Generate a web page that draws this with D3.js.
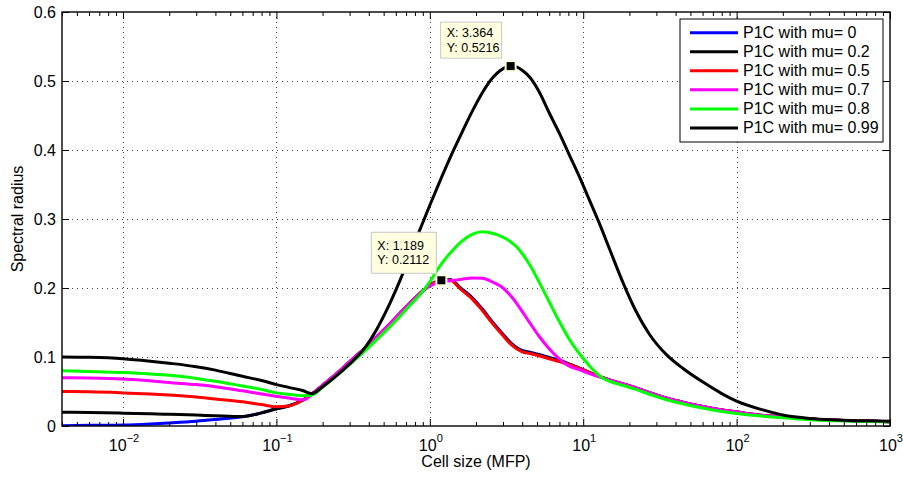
<!DOCTYPE html>
<meta charset="utf-8">
<script src="https://d3js.org/d3.v7.min.js"></script>
<style>
    body { margin: 0; background: #fff; }
    svg { display: block; font-family: "Liberation Sans", Arial, Helvetica, sans-serif; }
</style>
<body>
<svg width="903" height="479"></svg>
<script>
    // cell size (MFP), shared by every curve
    var cellSize = [0.004, 0.006, 0.01, 0.015, 0.02, 0.03, 0.04, 0.06, 0.08, 0.1,
                    0.12, 0.15, 0.17, 0.2, 0.25, 0.3, 0.37, 0.45, 0.55, 0.65,
                    0.75, 0.86, 1.0, 1.19, 1.35, 1.6, 1.9, 2.2, 2.6, 3.0,
                    3.36, 3.7, 4.0, 4.5, 5.2, 6.0, 7.0, 8.0, 9.5, 11,
                    13, 15, 18, 22, 27, 35, 45, 60, 80, 100,
                    150, 200, 300, 450, 700, 1000];

    var mu0   = [0.0005, 0.001, 0.0015, 0.003, 0.0045, 0.007, 0.0095, 0.0135, 0.019, 0.025,
                 0.029, 0.038, 0.046, 0.059, 0.077, 0.093, 0.111, 0.129, 0.148, 0.165,
                 0.179, 0.192, 0.204, 0.2115, 0.2125, 0.1995, 0.1855, 0.1695, 0.149, 0.133,
                 0.121, 0.1135, 0.1095, 0.107, 0.1035, 0.0995, 0.0955, 0.0905, 0.0835, 0.0775,
                 0.0712, 0.0665, 0.0612, 0.0552, 0.0482, 0.0402, 0.0342, 0.0282, 0.0232, 0.0202,
                 0.0152, 0.0132, 0.0102, 0.0082, 0.0072, 0.0062];
    var mu02  = [0.020, 0.0196, 0.0186, 0.0178, 0.017, 0.0158, 0.0148, 0.0137, 0.019, 0.025,
                 0.029, 0.038, 0.046, 0.059, 0.077, 0.093, 0.111, 0.129, 0.148, 0.165,
                 0.179, 0.192, 0.204, 0.2113, 0.212, 0.1985, 0.1845, 0.1685, 0.148, 0.132,
                 0.120, 0.1125, 0.1085, 0.106, 0.1025, 0.0985, 0.0945, 0.090, 0.0835, 0.0775,
                 0.0712, 0.0665, 0.0612, 0.0552, 0.0482, 0.0402, 0.0342, 0.0282, 0.0232, 0.0202,
                 0.0152, 0.0132, 0.0102, 0.0082, 0.0072, 0.0062];
    var mu05  = [0.050, 0.0495, 0.048, 0.0465, 0.045, 0.042, 0.039, 0.035, 0.031, 0.028,
                 0.029, 0.038, 0.046, 0.059, 0.077, 0.093, 0.111, 0.129, 0.148, 0.165,
                 0.179, 0.192, 0.204, 0.2112, 0.2115, 0.1975, 0.1835, 0.1675, 0.147, 0.131,
                 0.119, 0.1115, 0.1075, 0.105, 0.1015, 0.0975, 0.0935, 0.0895, 0.0835, 0.0775,
                 0.0712, 0.0665, 0.0612, 0.0552, 0.0482, 0.0402, 0.0342, 0.0282, 0.0232, 0.0202,
                 0.0152, 0.0132, 0.0102, 0.0082, 0.0072, 0.0062];
    var mu07  = [0.070, 0.0695, 0.068, 0.0655, 0.063, 0.060, 0.057, 0.051, 0.0465, 0.043,
                 0.0405, 0.038, 0.046, 0.059, 0.077, 0.093, 0.111, 0.129, 0.148, 0.165,
                 0.179, 0.192, 0.203, 0.209, 0.2105, 0.2125, 0.2145, 0.214, 0.208, 0.200,
                 0.189, 0.177, 0.166, 0.149, 0.129, 0.112, 0.097, 0.0875, 0.0815, 0.076,
                 0.0705, 0.0665, 0.0612, 0.0552, 0.0482, 0.0402, 0.0342, 0.0282, 0.0232, 0.0202,
                 0.0152, 0.0132, 0.0102, 0.0082, 0.0072, 0.0062];
    var mu08  = [0.080, 0.079, 0.0775, 0.0755, 0.0735, 0.069, 0.065, 0.058, 0.053, 0.048,
                 0.046, 0.044, 0.045, 0.056, 0.074, 0.089, 0.107, 0.125, 0.144, 0.161,
                 0.176, 0.190, 0.209, 0.235, 0.250, 0.267, 0.278, 0.2815, 0.279, 0.2735,
                 0.267, 0.259, 0.250, 0.233, 0.207, 0.180, 0.151, 0.128, 0.104, 0.087,
                 0.0715, 0.0645, 0.059, 0.053, 0.046, 0.038, 0.032, 0.026, 0.021, 0.018,
                 0.014, 0.012, 0.009, 0.0075, 0.0065, 0.006];
    var mu099 = [0.100, 0.0995, 0.0975, 0.094, 0.091, 0.086, 0.081, 0.072, 0.066, 0.060,
                 0.056, 0.051, 0.047, 0.057, 0.074, 0.090, 0.111, 0.140, 0.178, 0.215,
                 0.251, 0.284, 0.320, 0.360, 0.388, 0.423, 0.457, 0.483, 0.506, 0.518,
                 0.5216, 0.520, 0.5155, 0.505, 0.483, 0.454, 0.424, 0.396, 0.360, 0.327,
                 0.289, 0.254, 0.210, 0.167, 0.133, 0.103, 0.083, 0.064, 0.047, 0.036,
                 0.023, 0.016, 0.011, 0.0088, 0.0075, 0.007];

    var legendLabels = ['P1C with mu= 0', 'P1C with mu= 0.2', 'P1C with mu= 0.5',
                        'P1C with mu= 0.7', 'P1C with mu= 0.8', 'P1C with mu= 0.99'];
    var colors = ['#0000ff', '#000000', '#ff0000', '#ff00ff', '#00ff00', '#000000'];

    var yTicks = [0, 0.1, 0.2, 0.3, 0.4, 0.5, 0.6];
    var yTickLabels = ['0', '0.1', '0.2', '0.3', '0.4', '0.5', '0.6'];
    var xMajor = [0.01, 0.1, 1, 10, 100, 1000];
    var xExponents = ['\u22122', '\u22121', '0', '1', '2', '3'];

    var tipX = [3.364, 1.189];
    var tipY = [0.5216, 0.2112];

    var series = [mu0, mu02, mu05, mu07, mu08, mu099].map(function(vals, i){
        return { name: legendLabels[i], color: colors[i],
                 points: vals.map(function(v, j){ return [cellSize[j], v]; }) };
    });

    var margin = {top: 12, right: 13, bottom: 53, left: 62};
    var W = 903, H = 479;
    var width = W - margin.left - margin.right, height = H - margin.top - margin.bottom;

    var svg = d3.select('svg');
    var g = svg.append('g').attr('transform', 'translate(' + margin.left + ',' + margin.top + ')');

    var x = d3.scaleLog().domain([0.004, 1000]).range([0, width]);
    var y = d3.scaleLinear().domain([0, 0.6]).range([height, 0]);

    var xMinor = [];
    [-3, -2, -1, 0, 1, 2].forEach(function(e){
        for (var k = 2; k <= 9; k++) {
            var v = k * Math.pow(10, e);
            if (v >= 0.004 && v <= 1000) xMinor.push(v);
        }
    });

    // dotted grid
    var grid = g.append('g').attr('stroke', '#444').attr('stroke-width', 1).attr('stroke-dasharray', '1,4');
    grid.selectAll('line.gx').data(xMajor.slice(0, 5)).enter().append('line')
        .attr('x1', function(d){ return Math.round(x(d)) + 0.5; })
        .attr('x2', function(d){ return Math.round(x(d)) + 0.5; })
        .attr('y1', 0).attr('y2', height);
    grid.selectAll('line.gy').data(yTicks.slice(1, 6)).enter().append('line')
        .attr('x1', 0).attr('x2', width)
        .attr('y1', function(d){ return Math.round(y(d)) + 0.5; })
        .attr('y2', function(d){ return Math.round(y(d)) + 0.5; });

    // curves
    g.append('clipPath').attr('id', 'clip').append('rect')
        .attr('x', 0).attr('y', 0).attr('width', width).attr('height', height);

    var line = d3.line()
        .x(function(d){ return x(d[0]); })
        .y(function(d){ return y(d[1]); })
        .curve(d3.curveMonotoneX);

    g.append('g').attr('clip-path', 'url(#clip)')
        .selectAll('path').data(series).enter().append('path')
        .attr('fill', 'none')
        .attr('stroke', function(d){ return d.color; })
        .attr('stroke-width', 3)
        .attr('stroke-linejoin', 'round')
        .attr('d', function(d){ return line(d.points); });

    // axes, ticks pointing inward
    function clean(sel){ sel.select('.domain').remove(); sel.selectAll('line').attr('stroke', '#000'); }

    g.append('g').attr('transform', 'translate(0,' + height + ')')
        .call(d3.axisBottom(x).tickValues(xMajor).tickSize(-7).tickFormat('')).call(clean);
    g.append('g').attr('transform', 'translate(0,' + height + ')')
        .call(d3.axisBottom(x).tickValues(xMinor).tickSize(-4).tickFormat('')).call(clean);
    g.append('g')
        .call(d3.axisTop(x).tickValues(xMajor).tickSize(-7).tickFormat('')).call(clean);
    g.append('g')
        .call(d3.axisTop(x).tickValues(xMinor).tickSize(-4).tickFormat('')).call(clean);

    var yl = g.append('g')
        .call(d3.axisLeft(y).tickValues(yTicks).tickSize(-7).tickPadding(6)
              .tickFormat(function(d, i){ return yTickLabels[i]; }))
        .call(clean);
    yl.selectAll('text').attr('font-size', 16).attr('fill', '#000').attr('font-family', null);
    g.append('g').attr('transform', 'translate(' + width + ',0)')
        .call(d3.axisRight(y).tickValues(yTicks).tickSize(-7).tickFormat('')).call(clean);

    // x tick labels 10^n
    var xl = g.append('g').attr('font-size', 16).attr('text-anchor', 'middle');
    xMajor.forEach(function(v, i){
        var t = xl.append('text').attr('x', x(v) + 1).attr('y', height + 24.5);
        t.append('tspan').text('10');
        t.append('tspan').attr('dy', -9).attr('font-size', 11).text(xExponents[i]);
    });

    g.append('rect').attr('x', 0).attr('y', 0).attr('width', width).attr('height', height)
        .attr('fill', 'none').attr('stroke', '#000').attr('stroke-width', 1.4);

    // axis titles
    svg.append('text').attr('x', margin.left + width / 2).attr('y', 467)
        .attr('text-anchor', 'middle').attr('font-size', 16).text('Cell size (MFP)');
    svg.append('text').attr('transform', 'translate(23,' + (margin.top + height / 2) + ') rotate(-90)')
        .attr('text-anchor', 'middle').attr('font-size', 16).text('Spectral radius');

    // data tips
    var tipBoxes = [{dx: -70, dy: -44, w: 61, h: 36}, {dx: -70, dy: -48, w: 65, h: 41}];
    tipX.forEach(function(tx, i){
        var mx = x(tx), my = y(tipY[i]), b = tipBoxes[i];
        var tg = g.append('g');
        tg.append('rect').attr('x', mx + b.dx).attr('y', my + b.dy).attr('width', b.w).attr('height', b.h)
            .attr('fill', '#ffffe0').attr('stroke', '#c8c8c8').attr('stroke-width', 1);
        tg.append('text').attr('x', mx + b.dx + 6).attr('y', my + b.dy + b.h / 2 - 7)
            .attr('font-size', 12.5).attr('dominant-baseline', 'central').text('X: ' + tx);
        tg.append('text').attr('x', mx + b.dx + 6).attr('y', my + b.dy + b.h / 2 + 7.5)
            .attr('font-size', 12.5).attr('dominant-baseline', 'central').text('Y: ' + tipY[i]);
        tg.append('rect').attr('x', mx - 5).attr('y', my - 5).attr('width', 10).attr('height', 10)
            .attr('fill', '#000').attr('stroke', '#ffffe0').attr('stroke-width', 2);
    });

    // legend
    var lg = svg.append('g').attr('transform', 'translate(680,19)');
    lg.append('rect').attr('width', 203).attr('height', 123)
        .attr('fill', '#fff').attr('stroke', '#000').attr('stroke-width', 1);
    var items = lg.selectAll('g.item').data(series).enter().append('g')
        .attr('transform', function(d, i){ return 'translate(0,' + (13.7 + i * 19.05) + ')'; });
    items.append('line').attr('x1', 10).attr('x2', 58)
        .attr('stroke', function(d){ return d.color; }).attr('stroke-width', 3);
    items.append('text').attr('x', 63).attr('dominant-baseline', 'central')
        .attr('font-size', 16).text(function(d){ return d.name; });
</script>
</body>
